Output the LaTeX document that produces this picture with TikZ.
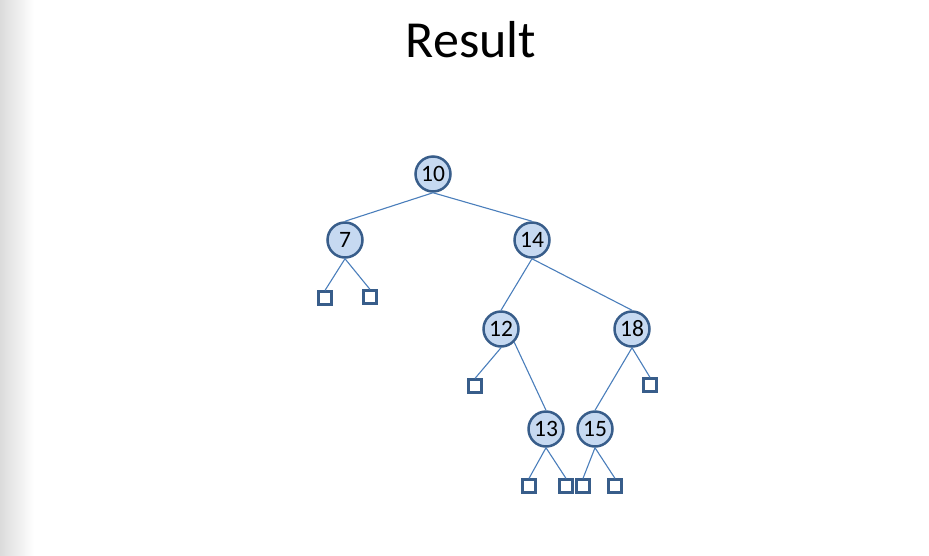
\documentclass[tikz,border=0pt]{standalone}
\usepackage{fontspec}
\setmainfont{Carlito}
\usepackage{tikz}
\usetikzlibrary{arrows}

\definecolor{keyfill}{HTML}{C6D9F1}
\definecolor{keyline}{HTML}{385D8A}
\definecolor{branchline}{HTML}{4A7EBB}

\newcommand{\keyfont}{\fontsize{23.5pt}{23.5pt}\selectfont}

\begin{document}
\begin{tikzpicture}[x=1pt,y=-1pt,
    key/.style={circle,draw=keyline,fill=keyfill,line width=2.5pt,minimum size=35pt,inner sep=0pt,font=\keyfont},
    nil/.style={rectangle,draw=keyline,fill=white,line width=2.2pt,minimum size=13pt,inner sep=0pt},
    branch/.style={draw=branchline,line width=1.1pt}]
    \useasboundingbox (0,0) rectangle (929,555);
    \shade[left color=black!14,right color=white] (0,0) rectangle (34,555);

    \node (title) at (471,40) {\fontsize{52pt}{52pt}\selectfont Result};

    \node[key] (k10) at (433,174) {10};
    \node[key] (k7) at (345,240) {7};
    \node[key] (k14) at (532,240) {14};
    \node[key] (k12) at (501,329) {12};
    \node[key] (k18) at (632,329) {18};
    \node[key] (k13) at (546,429) {13};
    \node[key] (k15) at (595,429) {15};

    \node[nil] (e7a) at (325,298) {};
    \node[nil] (e7b) at (370,297) {};
    \node[nil] (e12) at (475,386) {};
    \node[nil] (e18) at (650,385) {};
    \node[nil] (e13a) at (529,486) {};
    \node[nil] (e13b) at (566,486) {};
    \node[nil] (e15a) at (583,486) {};
    \node[nil] (e15b) at (615,486) {};

    \path[branch]
    (k10.south) edge (k7.north)
    (k10.south) edge (k14.north)

    (k7.south) edge (e7a.north)
    (k7.south) edge (e7b.north)

    (k14.south) edge (k12.north)
    (k14.south) edge (k18.north)

    (k12.south) edge (e12.north)
    (k12.south east) edge (k13.north)

    (k18.south) edge (k15.north)
    (k18.south) edge (e18.north)

    (k13.south) edge (e13a.north)
    (k13.south) edge (e13b.north)

    (k15.south) edge (e15a.north)
    (k15.south) edge (e15b.north)
    ;
\end{tikzpicture}
\end{document}
